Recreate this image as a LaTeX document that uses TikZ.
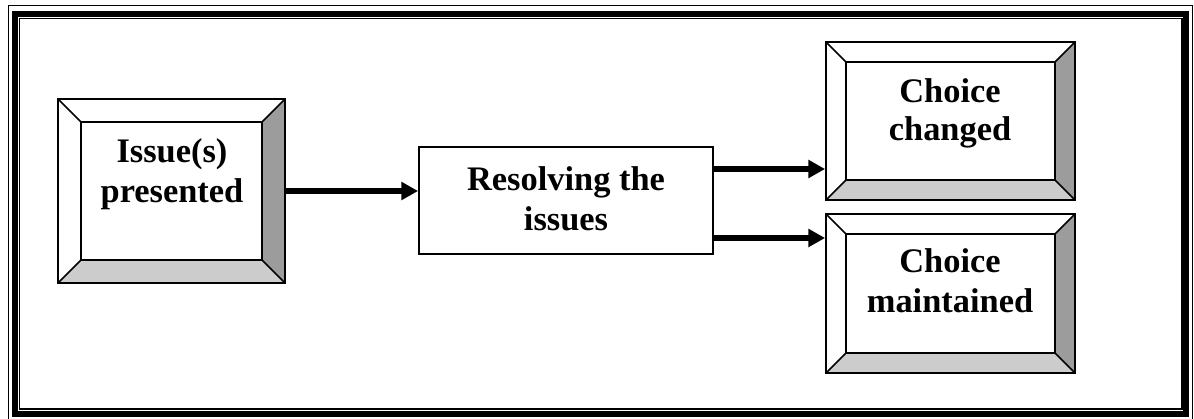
\documentclass[tikz,border=0pt]{standalone}
\usepackage{fontspec}
\setmainfont{Liberation Serif}
\usetikzlibrary{arrows.meta,fit}
\definecolor{darkbev}{HTML}{9C9C9C}
\definecolor{lightbev}{HTML}{CCCCCC}
\tikzset{
  boxline/.style={line width=1.4pt},
  bevline/.style={line width=1.2pt},
  lbl/.style={font=\fontsize{25.8}{30}\selectfont\bfseries, inner sep=0pt, anchor=base},
  conn/.style={line width=4.8pt, -{Triangle[length=12.5pt,width=13pt]}},
}
% #1 name, #2 x1, #3 y1, #4 x2, #5 y2, #6 bevel width
\newcommand\bevbox[6]{%
  \coordinate (#1-a) at (#2,#3);
  \coordinate (#1-b) at (#4,#5);
  \fill[white] (#2,#3) rectangle (#4,#5);
  \fill[darkbev] (#4,#3) -- (#4,#5) -- ({#4-#6},{#5-#6}) -- ({#4-#6},{#3+#6}) -- cycle;
  \fill[lightbev] (#2,#5) -- (#4,#5) -- ({#4-#6},{#5-#6}) -- ({#2+#6},{#5-#6}) -- cycle;
  \draw[bevline] ({#2+#6},{#3+#6}) rectangle ({#4-#6},{#5-#6});
  \draw[bevline] (#2,#3) -- ({#2+#6},{#3+#6}) (#4,#3) -- ({#4-#6},{#3+#6})
                 (#4,#5) -- ({#4-#6},{#5-#6}) (#2,#5) -- ({#2+#6},{#5-#6});
  \node[draw, boxline, fit=(#1-a)(#1-b), inner sep=0pt] (#1) {};
}
\begin{document}
\begin{tikzpicture}[x=0.75pt,y=-0.75pt]
\useasboundingbox (0,0) rectangle (1194,418);
% frame
\draw[line width=0.9pt] (8.5,5.5) rectangle (1192.5,430);
\draw[line width=4.5pt] (14.5,13.5) rectangle (1186,413.5);
\draw[line width=0.8pt] (19.5,18.5) rectangle (1182,409);
% boxes
\bevbox{issue}{58}{99}{285}{283}{23}
\bevbox{chg}{826}{42}{1075}{200}{20}
\bevbox{mnt}{826}{214}{1075}{373}{20}
\coordinate (ra) at (419,147);
\coordinate (rb) at (713,254);
\node[draw, boxline, fit=(ra)(rb), inner sep=0pt] (res) {};
% labels
\node[lbl] (issueL1) at (172,162) {Issue(s)};
\node[lbl] (issueL2) at (172,202) {presented};
\node[lbl] (resL1) at (566,190) {Resolving the};
\node[lbl] (resL2) at (566,230) {issues};
\node[lbl] (chgL1) at (950,102) {Choice};
\node[lbl] (chgL2) at (950,140) {changed};
\node[lbl] (mntL1) at (950,272) {Choice};
\node[lbl] (mntL2) at (950,312) {maintained};
% connectors
\coordinate (y1) at (770,169);
\coordinate (y2) at (770,238);
\draw[conn] (issue.east) -- (issue.east -| res.west);
\draw[conn] (res.east |- y1) -- (chg.west |- y1);
\draw[conn] (res.east |- y2) -- (mnt.west |- y2);
\end{tikzpicture}
\end{document}
